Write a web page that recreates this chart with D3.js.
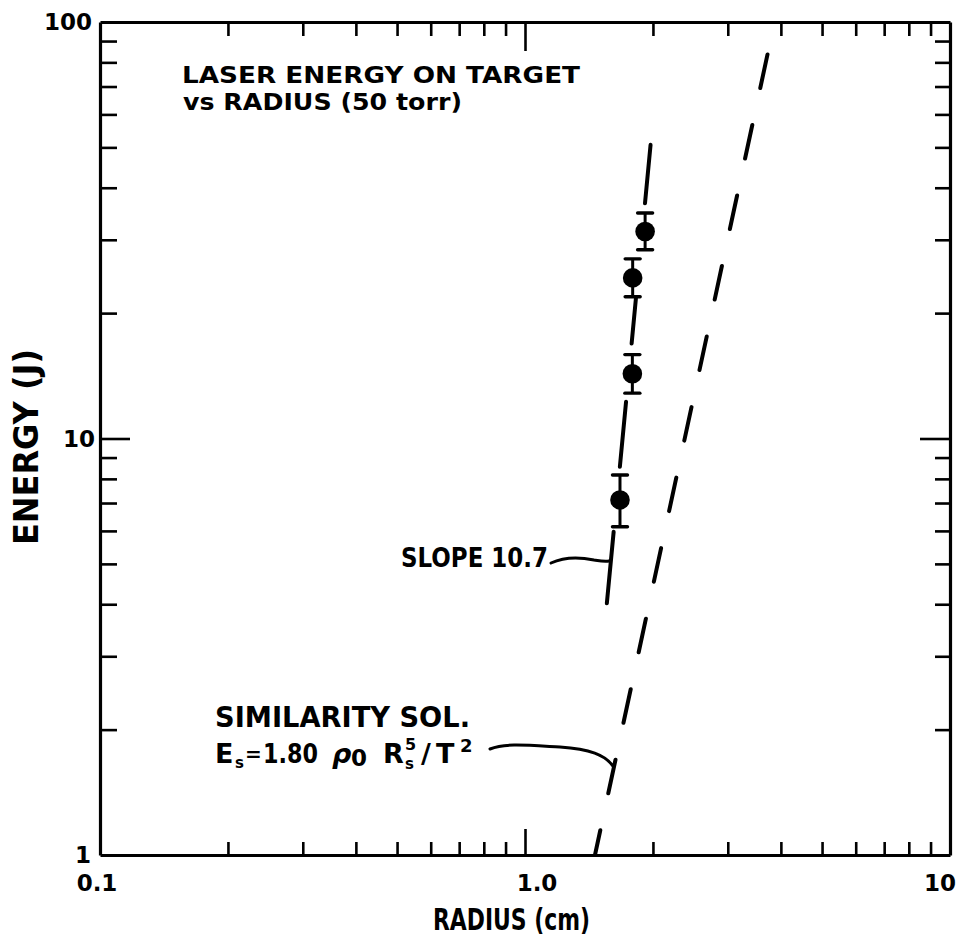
<!DOCTYPE html>
<html>
<head>
<meta charset="utf-8">
<script src="https://cdn.jsdelivr.net/npm/d3@7"></script>
<style>
  html, body { margin: 0; padding: 0; background: #fff; }
  svg { display: block; }
  text { font-family: "DejaVu Sans", "Liberation Sans", sans-serif; font-weight: bold; fill: #000; }
</style>
</head>
<body>
<svg id="chart" width="962" height="940"></svg>
<script>
// Measured laser energy on target vs blast-wave radius (50 torr)
const radius   = [1.917, 1.792, 1.789, 1.673];   // cm
const energy   = [31.4, 24.3, 14.3, 7.12];       // J
const errHigh  = [34.8, 27.0, 15.9, 8.17];
const errLow   = [28.4, 21.9, 12.85, 6.14];

// Power-law fit through the data: E ∝ R^10.7
const fitSlope = 10.7;
const fitRadiusAtUnitEnergy = 1.368;
// visible pieces of the fit line (energy ranges between the data markers)
const fitPieces = [[36.7, 50.7], [16.9, 21.7], [8.55, 12.26], [4.02, 5.97]];

// Similarity-solution line (radius, energy) end points
const simLine = [[1.461, 1], [3.864, 100]];

// Axis ticks
const xMinorTicks = [0.2,0.3,0.4,0.5,0.6,0.7,0.8,0.9,1,2,3,4,5,6,7,8,9];
const xMajorTicks = [1];
const yMinorTicks = [2,3,4,5,6,7,8,9,10,20,30,40,50,60,70,80,90];
const yMajorTicks = [10];
const xTickLabels = ["0.1", "1.0", "10"];
const xTickValues = [0.1, 1, 10];
const yTickLabels = ["1", "10", "100"];
const yTickValues = [1, 10, 100];

const svg = d3.select("#chart");
const L = 100, R = 950, T = 22, B = 855;

const x = d3.scaleLog().domain([0.1, 10]).range([L, R]);
const y = d3.scaleLog().domain([1, 100]).range([B, T]);

// ---- frame with inward ticks on all four sides ----
function frameSide(axisGen, transform, minorLen, majorLen, majors, vertical) {
  const g = svg.append("g").attr("transform", transform);
  g.call(axisGen.tickSizeInner(-minorLen).tickSizeOuter(0).tickFormat(""));
  g.select(".domain").attr("stroke", "#000").attr("stroke-width", 3.2);
  g.selectAll(".tick line")
    .attr("stroke", "#000")
    .attr("stroke-width", 2.6)
    .each(function (d) {
      const len = majors.includes(d) ? majorLen : minorLen;
      const sel = d3.select(this);
      const cur = +sel.attr(vertical ? "x2" : "y2");
      sel.attr(vertical ? "x2" : "y2", Math.sign(cur) * len);
    });
  return g;
}

frameSide(d3.axisBottom(x).tickValues(xMinorTicks), `translate(0,${B})`, 13, 26, xMajorTicks, false);
frameSide(d3.axisTop(x).tickValues(xMinorTicks), `translate(0,${T})`, 14, 29, xMajorTicks, false);
frameSide(d3.axisLeft(y).tickValues(yMinorTicks), `translate(${L},0)`, 17, 30, yMajorTicks, true);
frameSide(d3.axisRight(y).tickValues(yMinorTicks), `translate(${R},0)`, 15, 30, yMajorTicks, true);

// ---- tick labels ----
const xLabelDx = [-3, 12, -10];
svg.append("g").selectAll("text")
  .data(xTickValues)
  .join("text")
  .attr("x", (d, i) => x(d) + xLabelDx[i])
  .attr("y", 891)
  .attr("text-anchor", "middle")
  .attr("font-size", 23)
  .text((d, i) => xTickLabels[i]);

const yLabelRight = [91, 95, 92];
svg.append("g").selectAll("text")
  .data(yTickValues)
  .join("text")
  .attr("x", (d, i) => yLabelRight[i])
  .attr("y", d => y(d))
  .attr("dy", "0.36em")
  .attr("text-anchor", "end")
  .attr("font-size", 23)
  .text((d, i) => yTickLabels[i]);

// ---- axis titles ----
svg.append("text")
  .attr("x", 433).attr("y", 930)
  .attr("font-size", 30)
  .attr("textLength", 157).attr("lengthAdjust", "spacingAndGlyphs")
  .text("RADIUS (cm)");

svg.append("text")
  .attr("transform", "translate(38,545) rotate(-90)")
  .attr("font-size", 34)
  .attr("textLength", 196).attr("lengthAdjust", "spacingAndGlyphs")
  .text("ENERGY (J)");

// ---- chart heading ----
svg.append("text")
  .attr("x", 182).attr("y", 83)
  .attr("font-size", 22.5)
  .attr("textLength", 398).attr("lengthAdjust", "spacingAndGlyphs")
  .text("LASER ENERGY ON TARGET");
svg.append("text")
  .attr("x", 183).attr("y", 109.5)
  .attr("font-size", 22.5)
  .attr("textLength", 279).attr("lengthAdjust", "spacingAndGlyphs")
  .text("vs RADIUS (50 torr)");

// ---- similarity-solution dashed line ----
const lineGen = d3.line().x(d => x(d[0])).y(d => y(d[1]));
svg.append("path")
  .attr("d", lineGen(simLine))
  .attr("fill", "none")
  .attr("stroke", "#000")
  .attr("stroke-width", 4)
  .attr("stroke-linecap", "round")
  .attr("stroke-dasharray", "34.3 37.85")
  .attr("stroke-dashoffset", 9);

// ---- fit line (slope 10.7), broken at the data markers ----
const fitRadius = e => fitRadiusAtUnitEnergy * Math.pow(e, 1 / fitSlope);
svg.append("g").selectAll("path")
  .data(fitPieces)
  .join("path")
  .attr("d", p => lineGen(p.map(e => [fitRadius(e), e])))
  .attr("fill", "none")
  .attr("stroke", "#000")
  .attr("stroke-width", 4)
  .attr("stroke-linecap", "round");

// ---- data markers with error bars ----
const pts = radius.map((r, i) => ({ r, e: energy[i], hi: errHigh[i], lo: errLow[i] }));
const pg = svg.append("g");
pg.selectAll("line.err")
  .data(pts).join("line").attr("class", "err")
  .attr("x1", d => x(d.r)).attr("x2", d => x(d.r))
  .attr("y1", d => y(d.hi)).attr("y2", d => y(d.lo))
  .attr("stroke", "#000").attr("stroke-width", 3);
pg.selectAll("line.capHi")
  .data(pts).join("line").attr("class", "capHi")
  .attr("x1", d => x(d.r) - 7.5).attr("x2", d => x(d.r) + 7.5)
  .attr("y1", d => y(d.hi)).attr("y2", d => y(d.hi))
  .attr("stroke", "#000").attr("stroke-width", 3.4).attr("stroke-linecap", "round");
pg.selectAll("line.capLo")
  .data(pts).join("line").attr("class", "capLo")
  .attr("x1", d => x(d.r) - 7.5).attr("x2", d => x(d.r) + 7.5)
  .attr("y1", d => y(d.lo)).attr("y2", d => y(d.lo))
  .attr("stroke", "#000").attr("stroke-width", 3.4).attr("stroke-linecap", "round");
pg.selectAll("circle")
  .data(pts).join("circle")
  .attr("cx", d => x(d.r)).attr("cy", d => y(d.e))
  .attr("r", 9.8).attr("fill", "#000");

// ---- annotations ----
svg.append("text")
  .attr("x", 401).attr("y", 567)
  .attr("font-size", 26)
  .attr("textLength", 147).attr("lengthAdjust", "spacingAndGlyphs")
  .text("SLOPE 10.7");
svg.append("path")
  .attr("d", "M551,563 C566,556 580,557 594,560 C600,561 605,562 609,561")
  .attr("fill", "none").attr("stroke", "#000").attr("stroke-width", 3).attr("stroke-linecap", "round");

svg.append("text")
  .attr("x", 215).attr("y", 727)
  .attr("font-size", 28)
  .attr("textLength", 255).attr("lengthAdjust", "spacingAndGlyphs")
  .text("SIMILARITY SOL.");

// formula E_s = 1.80 ρ0 R_s^5 / T^2
const f = svg.append("g");
const base = 763;
f.append("text").attr("x", 215).attr("y", base).attr("font-size", 27).text("E");
f.append("text").attr("x", 235).attr("y", base + 5).attr("font-size", 15).text("s");
f.append("text").attr("x", 245).attr("y", base - 2).attr("font-size", 20).text("=");
f.append("text").attr("x", 263).attr("y", base).attr("font-size", 27)
  .attr("textLength", 55).attr("lengthAdjust", "spacingAndGlyphs").text("1.80");
f.append("text").attr("x", 332).attr("y", base).attr("font-size", 27).attr("font-style", "italic").text("ρ");
f.append("text").attr("x", 351).attr("y", base + 3).attr("font-size", 23).text("0");
f.append("text").attr("x", 383).attr("y", base).attr("font-size", 27).text("R");
f.append("text").attr("x", 405).attr("y", base - 13).attr("font-size", 16).text("5");
f.append("text").attr("x", 405).attr("y", base + 6).attr("font-size", 15).text("s");
f.append("text").attr("x", 421).attr("y", base).attr("font-size", 27).text("/");
f.append("text").attr("x", 436).attr("y", base).attr("font-size", 27).text("T");
f.append("text").attr("x", 460).attr("y", base - 11).attr("font-size", 18).text("2");

svg.append("path")
  .attr("d", "M490,749 C505,743 525,745 560,747 C590,749 605,755 613,766")
  .attr("fill", "none").attr("stroke", "#000").attr("stroke-width", 3).attr("stroke-linecap", "round");
</script>
</body>
</html>
